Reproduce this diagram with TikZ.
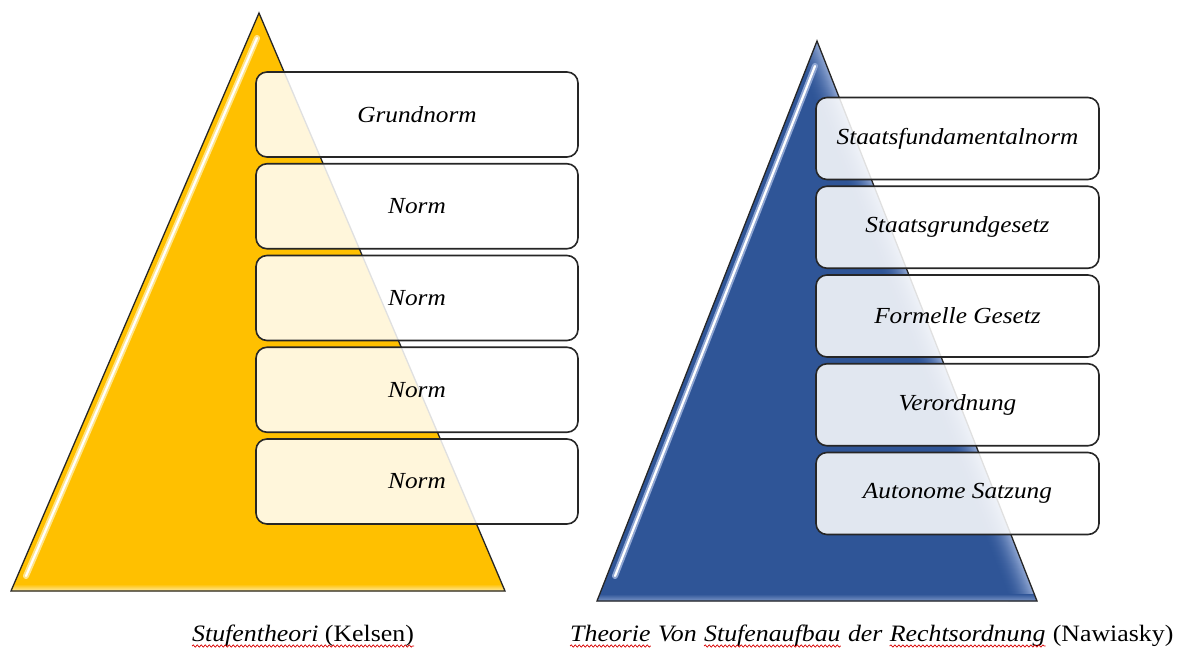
\documentclass[tikz,border=0pt]{standalone}
\usepackage{fontspec}
\setmainfont{Liberation Serif}[FakeStretch=1.1]
\usetikzlibrary{decorations.pathmorphing,calc}
\definecolor{gold}{HTML}{FFC000}
\definecolor{goldL}{HTML}{FFE48A}
\definecolor{navy}{HTML}{2F5597}
\definecolor{navyL}{HTML}{8EA5D2}
\definecolor{edgec}{HTML}{262626}
\tikzset{
  tri/.style={draw=edgec, line width=1.3pt, line join=miter},
  lvl/.style={draw=edgec, line width=1.6pt, rounded corners=11pt, fill=white,
    fill opacity=0.86, text opacity=1, inner sep=0pt,
    font=\fontsize{23}{27}\selectfont\itshape},
  lvlA/.style={lvl, minimum width=322pt, minimum height=85pt},
  lvlB/.style={lvl, minimum width=283pt, minimum height=82pt},
  captxt/.style={font=\fontsize{23.5}{27}\selectfont, inner sep=0pt, anchor=base west},
  wavy/.style={draw=red!85!black, line width=0.7pt, decorate,
    decoration={snake, amplitude=1.1pt, segment length=4pt}},
}
\begin{document}
\begin{tikzpicture}[x=1pt, y=-1pt]
\useasboundingbox (0,0) rectangle (1179,653);
\fill[white] (0,0) rectangle (1179,653);

% ---------- left pyramid ----------
\coordinate (A1) at (259,13);
\coordinate (B1) at (11,591);
\coordinate (C1) at (505,591);
\fill[gold] (A1) -- (B1) -- (C1) -- cycle;
\begin{scope}
  \clip (A1) -- (B1) -- (C1) -- cycle;
  \foreach \i in {6,5,...,0}{
    \pgfmathsetmacro\p{100*(1-\i/6)}
    \draw[line width=1.3pt, color=goldL!\p!gold] ($(B1)+(0,-\i)$) -- ($(C1)+(0,-\i)$);
  }
  \draw[line width=6pt, line cap=round, color=goldL] (257,38) -- (26,576);
  \draw[line width=2.2pt, line cap=round, color=white] (257,38) -- (26,576);
\end{scope}
\draw[tri] (A1) -- (B1) -- (C1) -- cycle;

\node[lvlA] (g1) at (417,114.5) {Grundnorm};
\node[lvlA] (g2) at (417,206.25) {Norm};
\node[lvlA] (g3) at (417,298) {Norm};
\node[lvlA] (g4) at (417,389.75) {Norm};
\node[lvlA] (g5) at (417,481.5) {Norm};

% ---------- right pyramid ----------
\coordinate (A2) at (817,41);
\coordinate (B2) at (597,601);
\coordinate (C2) at (1037,601);
\fill[navy] (A2) -- (B2) -- (C2) -- cycle;
\begin{scope}
  \clip (A2) -- (B2) -- (C2) -- cycle;
  \foreach \i in {28,27,...,0}{
    \pgfmathsetmacro\p{100*(1-\i/28)^2}
    \draw[line width=1.4pt, color=navyL!\p!navy] ($(A2)+(-\i,0)$) -- ($(C2)+(-\i,0)$);
  }
  \foreach \i in {6,5,...,0}{
    \pgfmathsetmacro\p{70*(1-\i/6)}
    \draw[line width=1.3pt, color=navyL!\p!navy] ($(B2)+(0,-\i)$) -- ($(C2)+(0,-\i)$);
  }
  \draw[line width=6pt, line cap=round, color=navyL] (815,66) -- (615,576);
  \draw[line width=2.2pt, line cap=round, color=white] (815,66) -- (615,576);
\end{scope}
\draw[tri] (A2) -- (B2) -- (C2) -- cycle;

\node[lvlB] (n1) at (957.5,138.5) {Staatsfundamentalnorm};
\node[lvlB] (n2) at (957.5,227.25) {Staatsgrundgesetz};
\node[lvlB] (n3) at (957.5,316) {Formelle Gesetz};
\node[lvlB] (n4) at (957.5,404.75) {Verordnung};
\node[lvlB] (n5) at (957.5,493.5) {Autonome Satzung};

% ---------- captions ----------
\node[captxt] (k1) at (192,641) {\itshape Stufentheori};
\node[captxt] (k2) at ($(k1.base east)+(6,0)$) {(Kelsen)};
\draw[wavy] ($(k1.base west)+(0,5)$) -- ($(k2.base east)+(0,5)$);

\node[captxt] (t1) at (570,641) {\itshape Theorie};
\node[captxt] (t2) at ($(t1.base east)+(7,0)$) {\itshape Von};
\node[captxt] (t3) at ($(t2.base east)+(7,0)$) {\itshape Stufenaufbau};
\node[captxt] (t4) at ($(t3.base east)+(7,0)$) {\itshape der};
\node[captxt] (t5) at ($(t4.base east)+(7,0)$) {\itshape Rechtsordnung};
\node[captxt] (t6) at ($(t5.base east)+(7,0)$) {(Nawiasky)};
\draw[wavy] ($(t1.base west)+(0,5)$) -- ($(t1.base east)+(0,5)$);
\draw[wavy] ($(t3.base west)+(0,5)$) -- ($(t3.base east)+(0,5)$);
\draw[wavy] ($(t5.base west)+(0,5)$) -- ($(t5.base east)+(0,5)$);
\end{tikzpicture}
\end{document}
